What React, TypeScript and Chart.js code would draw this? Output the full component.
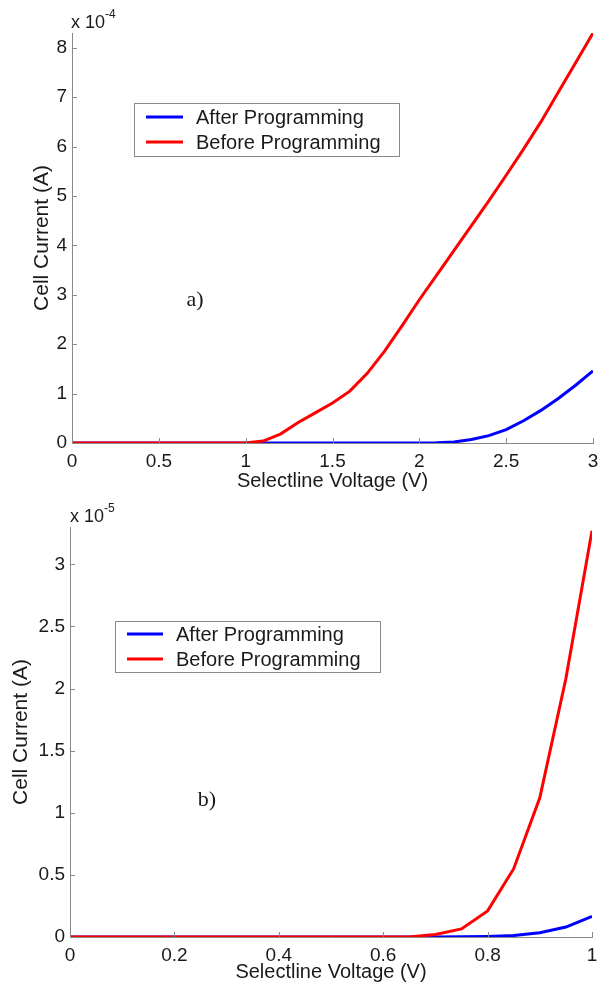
import React, { useEffect, useRef } from "react";
import { Chart, registerables } from "chart.js";

Chart.register(...registerables);

// ---------- Data ----------
const seriesLabels = ["After Programming", "Before Programming"];
const seriesColors = ["#0000ff", "#ff0000"];

// Panel a) — current in units of 1e-4 A
const voltageA = [
  0, 0.1, 0.2, 0.3, 0.4, 0.5, 0.6, 0.7, 0.8, 0.9, 1.0, 1.1, 1.2, 1.3, 1.4, 1.5,
  1.6, 1.7, 1.8, 1.9, 2.0, 2.1, 2.2, 2.3, 2.4, 2.5, 2.6, 2.7, 2.8, 2.9, 3.0,
];
const afterA = [
  0, 0, 0, 0, 0, 0, 0, 0, 0, 0, 0, 0, 0, 0, 0, 0, 0, 0, 0, 0, 0, 0.003, 0.02,
  0.07, 0.15, 0.27, 0.45, 0.66, 0.9, 1.17, 1.46,
];
const beforeA = [
  0, 0, 0, 0, 0, 0, 0, 0, 0, 0, 0, 0.04, 0.18, 0.41, 0.61, 0.81, 1.05, 1.41,
  1.86, 2.37, 2.9, 3.4, 3.9, 4.4, 4.9, 5.42, 5.95, 6.5, 7.1, 7.7, 8.3,
];
const xTicksA = [0, 0.5, 1, 1.5, 2, 2.5, 3];
const yTicksA = [0, 1, 2, 3, 4, 5, 6, 7, 8];
const xMaxA = 3;
const yMaxA = 8.3;
const exponentA = "-4";
const tagA = "a)";

// Panel b) — current in units of 1e-5 A
const voltageB = [
  0, 0.05, 0.1, 0.15, 0.2, 0.25, 0.3, 0.35, 0.4, 0.45, 0.5, 0.55, 0.6, 0.65,
  0.7, 0.75, 0.8, 0.85, 0.9, 0.95, 1.0,
];
const afterB = [
  0, 0, 0, 0, 0, 0, 0, 0, 0, 0, 0, 0, 0, 0, 0, 0.002, 0.005, 0.012, 0.035,
  0.08, 0.165,
];
const beforeB = [
  0, 0, 0, 0, 0, 0, 0, 0, 0, 0, 0, 0, 0, 0, 0.02, 0.065, 0.21, 0.55, 1.12,
  2.08, 3.27,
];
const xTicksB = [0, 0.2, 0.4, 0.6, 0.8, 1];
const yTicksB = [0, 0.5, 1, 1.5, 2, 2.5, 3];
const xMaxB = 1;
const yMaxB = 3.3;
const exponentB = "-5";
const tagB = "b)";

const xTitle = "Selectline Voltage (V)";
const yTitle = "Cell Current (A)";

// ---------- Styling ----------
const SANS = '"Liberation Sans", Arial, Helvetica, sans-serif';
const SERIF = '"Liberation Serif", "Times New Roman", serif';
const AXIS = "#8a8a8a";
const TEXT = "#1a1a1a";

type Layout = {
  height: number;
  top: number;
  axisLeft: number;
  padRight: number;
  xAxisHeight: number;
  xTitlePad: number;
  yTitlePad: number;
  exp: { x: number; y: number };
  tag: { x: number; y: number };
  legend: { x0: number; y0: number; x1: number; y1: number; lx0: number; lx1: number; tx: number; rows: number[] };
};

type PanelProps = {
  xs: number[];
  after: number[];
  before: number[];
  xTicks: number[];
  yTicks: number[];
  xMax: number;
  yMax: number;
  exponent: string;
  tag: string;
  layout: Layout;
};

const fmt = (v: any) => String(Math.round(Number(v) * 1000) / 1000);

function Panel(props: PanelProps) {
  const ref = useRef<HTMLCanvasElement | null>(null);

  useEffect(() => {
    const { xs, after, before, xTicks, yTicks, xMax, yMax, exponent, tag, layout } = props;
    const canvas = ref.current;
    if (!canvas) return;

    const decor = {
      id: "matlabDecor",
      afterDraw(chart: any) {
        const ctx = chart.ctx as CanvasRenderingContext2D;
        const { left, bottom } = chart.chartArea;
        const sx = chart.scales.x;
        const sy = chart.scales.y;
        ctx.save();
        // inward tick marks
        ctx.strokeStyle = AXIS;
        ctx.lineWidth = 1;
        ctx.beginPath();
        sx.ticks.forEach((t: any) => {
          const p = Math.round(sx.getPixelForValue(t.value)) + 0.5;
          ctx.moveTo(p, bottom);
          ctx.lineTo(p, bottom - 5);
        });
        sy.ticks.forEach((t: any) => {
          const p = Math.round(sy.getPixelForValue(t.value)) + 0.5;
          ctx.moveTo(left, p);
          ctx.lineTo(left + 5, p);
        });
        ctx.stroke();

        // exponent label
        ctx.fillStyle = TEXT;
        ctx.textAlign = "left";
        ctx.textBaseline = "alphabetic";
        ctx.font = `18px ${SANS}`;
        ctx.fillText("x 10", layout.exp.x, layout.exp.y);
        const w = ctx.measureText("x 10").width;
        ctx.font = `12px ${SANS}`;
        ctx.fillText(exponent, layout.exp.x + w, layout.exp.y - 10);

        // panel tag
        ctx.font = `22px ${SERIF}`;
        ctx.textAlign = "center";
        ctx.textBaseline = "middle";
        ctx.fillText(tag, layout.tag.x, layout.tag.y);

        // legend box
        const L = layout.legend;
        ctx.fillStyle = "#ffffff";
        ctx.fillRect(L.x0, L.y0, L.x1 - L.x0, L.y1 - L.y0);
        ctx.strokeStyle = AXIS;
        ctx.lineWidth = 1;
        ctx.strokeRect(L.x0 + 0.5, L.y0 + 0.5, L.x1 - L.x0, L.y1 - L.y0);
        chart.data.datasets.forEach((ds: any, i: number) => {
          const y = L.rows[i];
          ctx.strokeStyle = ds.borderColor;
          ctx.lineWidth = 3;
          ctx.beginPath();
          ctx.moveTo(L.lx0, y);
          ctx.lineTo(L.lx1, y);
          ctx.stroke();
          ctx.fillStyle = TEXT;
          ctx.font = `20px ${SANS}`;
          ctx.textAlign = "left";
          ctx.textBaseline = "middle";
          ctx.fillText(ds.label, L.tx, y + 1);
        });
        ctx.restore();
      },
    };

    const mk = (ys: number[]) => xs.map((x, i) => ({ x, y: ys[i] }));

    const chart = new Chart(canvas, {
      type: "line",
      data: {
        datasets: [
          {
            label: seriesLabels[0],
            data: mk(after),
            borderColor: seriesColors[0],
            backgroundColor: seriesColors[0],
            borderWidth: 3,
            pointRadius: 0,
            tension: 0,
            order: 2,
          },
          {
            label: seriesLabels[1],
            data: mk(before),
            borderColor: seriesColors[1],
            backgroundColor: seriesColors[1],
            borderWidth: 3,
            pointRadius: 0,
            tension: 0,
            order: 1,
          },
        ],
      },
      options: {
        responsive: false,
        animation: false,
        events: [],
        layout: { padding: { left: 0, right: layout.padRight, top: layout.top, bottom: 0 } },
        plugins: {
          legend: { display: false },
          tooltip: { enabled: false },
        },
        scales: {
          x: {
            type: "linear",
            min: 0,
            max: xMax,
            grid: { display: false, drawTicks: false },
            border: { display: true, color: AXIS, width: 1 },
            afterBuildTicks: (s: any) => {
              s.ticks = xTicks.map((v) => ({ value: v }));
            },
            afterFit: (s: any) => {
              s.height = layout.xAxisHeight;
            },
            ticks: {
              color: TEXT,
              font: { family: SANS, size: 19 },
              padding: 7,
              maxRotation: 0,
              autoSkip: false,
              callback: (v: any) => fmt(v),
            },
            title: {
              display: true,
              text: xTitle,
              color: TEXT,
              font: { family: SANS, size: 20 },
              padding: { top: 0, bottom: layout.xTitlePad },
            },
          },
          y: {
            type: "linear",
            min: 0,
            max: yMax,
            grid: { display: false, drawTicks: false },
            border: { display: true, color: AXIS, width: 1 },
            afterBuildTicks: (s: any) => {
              s.ticks = yTicks.map((v) => ({ value: v }));
            },
            afterFit: (s: any) => {
              s.width = layout.axisLeft;
            },
            ticks: {
              color: TEXT,
              font: { family: SANS, size: 19 },
              padding: 5,
              autoSkip: false,
              callback: (v: any) => fmt(v),
            },
            title: {
              display: true,
              text: yTitle,
              color: TEXT,
              font: { family: SANS, size: 21 },
              padding: { top: layout.yTitlePad, bottom: 0 },
            },
          },
        },
      },
      plugins: [decor],
    } as any);

    return () => chart.destroy();
  }, []);

  return (
    <canvas
      ref={ref}
      width={611}
      height={props.layout.height}
      style={{ display: "block", width: 611, height: props.layout.height }}
    />
  );
}

const layoutA: Layout = {
  height: 495,
  top: 33,
  axisLeft: 72,
  padRight: 18,
  xAxisHeight: 52,
  xTitlePad: 2,
  yTitlePad: 30,
  exp: { x: 71, y: 28 },
  tag: { x: 195, y: 300 },
  legend: { x0: 134, y0: 103, x1: 399, y1: 156, lx0: 146, lx1: 183, tx: 196, rows: [117, 142] },
};

const layoutB: Layout = {
  height: 490,
  top: 32,
  axisLeft: 70,
  padRight: 19,
  xAxisHeight: 48,
  xTitlePad: 1,
  yTitlePad: 9,
  exp: { x: 70, y: 27 },
  tag: { x: 207, y: 305 },
  legend: { x0: 115, y0: 126, x1: 380, y1: 177, lx0: 127, lx1: 163, tx: 176, rows: [139, 164] },
};

export default function App() {
  return (
    <div style={{ position: "absolute", left: 0, top: 0, width: 611, height: 985, background: "#fff" }}>
      <Panel
        xs={voltageA}
        after={afterA}
        before={beforeA}
        xTicks={xTicksA}
        yTicks={yTicksA}
        xMax={xMaxA}
        yMax={yMaxA}
        exponent={exponentA}
        tag={tagA}
        layout={layoutA}
      />
      <Panel
        xs={voltageB}
        after={afterB}
        before={beforeB}
        xTicks={xTicksB}
        yTicks={yTicksB}
        xMax={xMaxB}
        yMax={yMaxB}
        exponent={exponentB}
        tag={tagB}
        layout={layoutB}
      />
    </div>
  );
}
